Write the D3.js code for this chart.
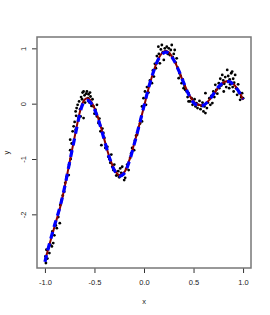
<!DOCTYPE html>
<html>
<head>
<meta charset="utf-8">
<script src="https://cdn.jsdelivr.net/npm/d3@7"></script>
<style>
  body { margin: 0; background: #fff; }
  svg { display: block; font-family: "Liberation Sans", Arial, sans-serif; }
</style>
</head>
<body>
<svg width="270" height="315"></svg>
<script>
// observed points
var px = [-0.995,-0.99,-0.985,-0.975,-0.965,-0.955,-0.945,-0.93,-0.925,-0.916,-0.905,-0.89,-0.88,-0.865,-0.85,-0.845,-0.83,-0.82,-0.805,-0.795,-0.78,-0.76,-0.755,-0.745,-0.74,
  -0.745,-0.73,-0.72,-0.71,-0.69,-0.7,-0.685,-0.68,-0.69,-0.67,-0.66,-0.655,-0.645,-0.64,-0.635,-0.625,-0.62,-0.61,-0.61,-0.6,-0.595,-0.585,-0.576,-0.565,-0.56,-0.55,-0.545,-0.54,-0.53,-0.52,-0.51,-0.5,-0.49,-0.475,-0.475,
  -0.46,-0.45,-0.44,-0.43,-0.42,-0.41,-0.4,-0.39,-0.37,-0.36,-0.35,-0.34,-0.33,-0.32,-0.31,-0.3,-0.29,-0.28,-0.27,-0.26,-0.25,-0.24,-0.23,-0.22,-0.21,-0.2,-0.19,-0.18,-0.17,-0.155,-0.14,-0.13,-0.12,-0.1,-0.09,-0.08,-0.07,-0.055,-0.04,
  -0.02,-0.02,-0.005,0.01,0.02,0.03,0.045,0.06,0.08,0.09,0.1,0.11,0.12,0.13,0.145,0.15,0.16,0.17,0.18,0.19,0.2,0.21,0.22,0.23,0.24,0.25,0.26,0.27,0.28,0.29,0.3,0.31,0.32,0.33,0.34,0.35,0.36,0.37,0.38,0.39,0.4,0.41,0.415,0.43,0.44,0.45,0.45,0.465,0.48,0.49,
  0.5,0.51,0.52,0.53,0.54,0.55,0.56,0.57,0.58,0.59,0.6,0.61,0.62,0.62,0.635,0.645,0.66,0.67,0.68,0.69,0.7,0.71,0.72,0.73,0.74,0.755,0.76,0.77,0.78,0.79,0.8,0.805,0.81,0.82,0.83,0.84,0.845,0.85,0.86,0.865,0.87,0.88,0.89,0.895,0.9,0.905,0.91,0.92,0.93,0.94,0.95,0.96,0.97,0.98,0.99,1.0];
var py = [-2.76,-2.88,-2.64,-2.8,-2.61,-2.7,-2.55,-2.58,-2.31,-2.52,-2.38,-2.2,-2.25,-2.05,-2.16,-1.83,-1.74,-1.66,-1.59,-1.43,-1.32,-1.29,-1.1,-0.84,-1.0,
  -0.65,-0.72,-0.5,-0.41,-0.47,-0.33,-0.22,-0.08,-0.14,-0.02,-0.26,0.04,-0.1,-0.23,0.12,0.08,0.2,0.22,-0.26,0.15,0.02,0.18,0.22,0.1,0.17,0.02,0.2,0.13,-0.04,0.08,-0.05,-0.18,-0.11,-0.02,-0.23,
  -0.35,-0.27,-0.5,-0.75,-0.45,-0.53,-0.62,-0.8,-0.78,-0.96,-1.0,-1.07,-0.92,-1.14,-1.2,-1.1,-1.23,-1.3,-1.29,-1.22,-1.33,-1.17,-1.25,-1.14,-1.28,-1.38,-1.34,-1.18,-1.1,-1.2,-0.98,-0.9,-0.8,-0.84,-0.66,-0.58,-0.56,-0.44,-0.36,
  -0.32,-0.05,0.1,0.22,-0.02,0.3,0.2,0.42,0.37,0.6,0.49,0.72,0.64,0.86,1.03,0.9,0.73,0.98,1.06,0.93,0.79,1.0,0.95,1.03,0.9,1.0,0.88,0.97,1.06,0.84,0.9,0.97,0.74,0.82,0.65,0.46,0.55,0.5,0.37,0.44,0.28,0.32,0.25,0.22,0.12,0.04,0.19,0.04,0.1,-0.02,
  0.01,0.08,-0.05,0.01,-0.08,-0.02,0.05,-0.1,-0.04,0.02,-0.14,-0.05,-0.17,0.19,-0.08,0.02,0.1,-0.02,0.14,0.01,0.22,0.12,0.34,0.25,0.18,0.37,0.28,0.45,0.33,0.52,0.42,0.22,0.36,0.48,0.3,0.61,0.4,0.5,0.28,0.44,0.35,0.55,0.58,0.3,0.45,0.22,0.38,0.52,0.28,0.16,0.35,0.2,0.07,0.12,0.19,0.1];

// true curve (dark red) and estimate (blue dashed)
var cx = [-1,-0.95,-0.9,-0.85,-0.8,-0.75,-0.7,-0.65,-0.625,-0.6,-0.575,-0.55,-0.5,-0.45,-0.4,-0.35,-0.3,-0.25,-0.2,-0.15,-0.1,-0.05,0,0.05,0.1,0.15,0.2,0.225,0.25,0.3,0.35,0.4,0.45,0.5,0.55,0.6,0.65,0.7,0.75,0.8,0.85,0.875,0.9,0.95,1.0];
var trueY = [-2.84,-2.52,-2.2,-1.9,-1.5,-1.05,-0.6,-0.17,-0.01,0.07,0.1,0.08,-0.08,-0.33,-0.65,-0.96,-1.18,-1.29,-1.24,-1.03,-0.73,-0.4,-0.05,0.3,0.6,0.83,0.94,0.95,0.93,0.8,0.6,0.38,0.18,0.04,-0.02,-0.02,0.05,0.16,0.29,0.38,0.41,0.4,0.36,0.25,0.07];
var estY = [-2.86,-2.5,-2.18,-1.88,-1.5,-1.05,-0.62,-0.2,-0.04,0.04,0.06,0.04,-0.1,-0.35,-0.66,-0.97,-1.2,-1.31,-1.26,-1.05,-0.74,-0.4,-0.04,0.31,0.6,0.82,0.92,0.93,0.91,0.79,0.6,0.38,0.17,0.02,-0.04,-0.03,0.05,0.17,0.3,0.38,0.4,0.39,0.34,0.24,0.08];

var xTicks = [-1, -0.5, 0, 0.5, 1];
var yTicks = [-2, -1, 0, 1];

(function() {
  var mLeft = 37, mRight = 251, mTop = 37, mBottom = 268;
  var x = d3.scaleLinear().domain([-1.08, 1.08]).range([mLeft, mRight]);
  var y = d3.scaleLinear().domain([-2.97, 1.205]).range([mBottom, mTop]);
  var fmtX = function(d) { return d3.format(".1f")(d).replace("\u2212", "-"); };
  var fmtY = function(d) { return d3.format("d")(d).replace("\u2212", "-"); };

  var svg = d3.select("svg");

  // points
  svg.append("g").selectAll("circle")
    .data(px)
    .enter().append("circle")
    .attr("cx", function(d) { return x(d); })
    .attr("cy", function(d, i) { return y(py[i]); })
    .attr("r", 1.4)
    .attr("fill", "#000");

  var line = d3.line()
    .x(function(d) { return x(d[0]); })
    .y(function(d) { return y(d[1]); })
    .curve(d3.curveCatmullRom);

  svg.append("path")
    .attr("d", line(cx.map(function(d, i) { return [d, trueY[i]]; })))
    .attr("fill", "none")
    .attr("stroke", "#8b0000")
    .attr("stroke-width", 2);

  svg.append("path")
    .attr("d", line(cx.map(function(d, i) { return [d, estY[i]]; })))
    .attr("fill", "none")
    .attr("stroke", "#0000ff")
    .attr("stroke-width", 3.2)
    .attr("stroke-dasharray", "7,5");

  // axes
  var xAxis = svg.append("g")
    .attr("transform", "translate(0," + mBottom + ")")
    .call(d3.axisBottom(x).tickValues(xTicks).tickSize(5).tickPadding(7).tickFormat(fmtX));
  var yAxis = svg.append("g")
    .attr("transform", "translate(" + mLeft + ",0)")
    .call(d3.axisLeft(y).tickValues(yTicks).tickSize(5).tickFormat(fmtY));

  xAxis.select(".domain").remove();
  yAxis.select(".domain").remove();
  xAxis.selectAll("text").attr("font-size", 7.5).attr("fill", "#222");
  yAxis.selectAll("text").attr("font-size", 7.5).attr("fill", "#222")
    .attr("text-anchor", "middle").attr("dy", 0).attr("x", 0)
    .attr("transform", "translate(-11,0) rotate(-90)");
  svg.selectAll(".tick line").attr("stroke", "#333");

  // box
  svg.append("rect")
    .attr("x", mLeft).attr("y", mTop)
    .attr("width", mRight - mLeft).attr("height", mBottom - mTop)
    .attr("fill", "none").attr("stroke", "#777").attr("stroke-width", 1.5);

  svg.append("text").attr("x", (mLeft + mRight) / 2).attr("y", 304)
    .attr("text-anchor", "middle").attr("font-size", 7.5).attr("fill", "#222").text("x");
  svg.append("text").attr("transform", "translate(9," + ((mTop + mBottom) / 2) + ") rotate(-90)")
    .attr("text-anchor", "middle").attr("font-size", 7.5).attr("fill", "#222").text("y");
})();
</script>
</body>
</html>
